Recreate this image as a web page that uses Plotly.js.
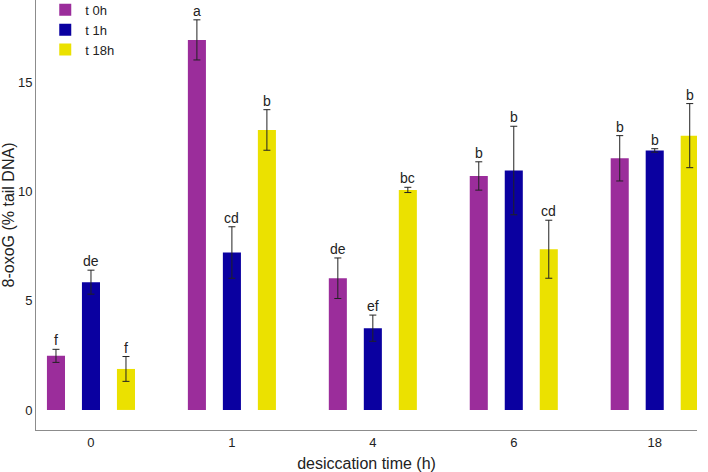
<!DOCTYPE html>
<html>
<head>
<meta charset="utf-8">
<script src="https://cdn.plot.ly/plotly-3.0.1.min.js"></script>
<style>html,body{margin:0;padding:0;background:#fff}#chart{width:708px;height:472px}</style>
</head>
<body>
<div id="chart"></div>
<script>
const timeLabels = ['0', '1', '4', '6', '18'];
const seriesNames = ['t 0h', 't 1h', 't 18h'];
const t0Values = [2.48, 16.97, 6.04, 10.73, 11.54];
const t0Errors = [0.30, 0.92, 0.93, 0.65, 1.04];
const t0Letters = ['f', 'a', 'de', 'b', 'b'];
const t1Values = [5.86, 7.22, 3.75, 10.98, 11.90];
const t1Errors = [0.55, 1.18, 0.60, 2.03, 0.08];
const t1Letters = ['de', 'cd', 'ef', 'b', 'b'];
const t18Values = [1.88, 12.84, 10.09, 7.37, 12.58];
const t18Errors = [0.57, 0.93, 0.12, 1.33, 1.47];
const t18Letters = ['f', 'b', 'bc', 'cd', 'b'];
const colors = ['#9b2d9b', '#0a00a0', '#ebe100'];

const allValues = [t0Values, t1Values, t18Values];
const allErrors = [t0Errors, t1Errors, t18Errors];
const allLetters = [t0Letters, t1Letters, t18Letters];
const xPos = timeLabels.map((_, i) => i);
const bargap = 0.255;
const bargroupgap = 0.484;

const traces = allValues.map((vals, k) => ({
  type: 'bar',
  name: seriesNames[k],
  x: xPos,
  y: vals,
  marker: {color: colors[k]},
  error_y: {type: 'data', array: allErrors[k], visible: true, color: '#222', thickness: 1, width: 3.5},
  hoverinfo: 'skip'
}));

const slot = (1 - bargap) / seriesNames.length;
const annotations = [];
allValues.forEach((vals, k) => {
  vals.forEach((v, i) => {
    annotations.push({
      x: i + (k - 1) * slot,
      y: v + allErrors[k][i],
      xref: 'x', yref: 'y',
      text: allLetters[k][i],
      showarrow: false,
      yanchor: 'bottom',
      yshift: -1,
      font: {family: 'Liberation Sans, Arial, sans-serif', size: 14, color: '#222'}
    });
  });
});

const layout = {
  width: 708, height: 472,
  margin: {l: 36, r: 11, t: 0, b: 42, autoexpand: false},
  paper_bgcolor: '#fff', plot_bgcolor: '#fff',
  barmode: 'group',
  bargap: bargap,
  bargroupgap: bargroupgap,
  showlegend: true,
  legend: {x: 0.014, y: 1.012, xanchor: 'left', yanchor: 'top', bgcolor: 'rgba(0,0,0,0)',
           font: {family: 'Liberation Sans, Arial, sans-serif', size: 13, color: '#222'},
           tracegroupgap: 0, itemwidth: 30},
  font: {family: 'Liberation Sans, Arial, sans-serif', size: 13, color: '#222'},
  xaxis: {
    range: [-0.39, 4.30],
    tickmode: 'array', tickvals: xPos, ticktext: timeLabels,
    showgrid: false, zeroline: false,
    showline: true, linecolor: '#8c8c8c', linewidth: 1,
    ticks: '', tickfont: {size: 13, color: '#222'},
    title: {text: 'desiccation time (h)', font: {size: 16, color: '#222'}, standoff: 12}
  },
  yaxis: {
    range: [-0.92, 18.8],
    tickvals: [0, 5, 10, 15],
    showgrid: false, zeroline: false,
    showline: true, linecolor: '#8c8c8c', linewidth: 1,
    ticks: '', tickfont: {size: 13, color: '#222'},
    title: {text: '8-oxoG (% tail DNA)', font: {size: 16, color: '#222'}, standoff: 3}
  },
  annotations: annotations
};

Plotly.newPlot('chart', traces, layout, {displayModeBar: false, staticPlot: true});
</script>
</body>
</html>
